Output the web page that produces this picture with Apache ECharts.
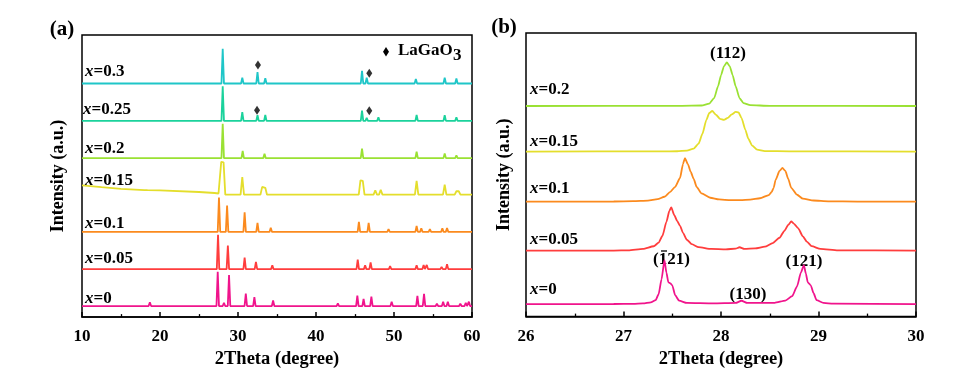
<!DOCTYPE html>
<html><head><meta charset="utf-8">
<script src="https://cdn.jsdelivr.net/npm/echarts@6/dist/echarts.min.js"></script>
<style>html,body{margin:0;padding:0;background:#fff}#c{width:957px;height:374px}</style>
</head><body><div id="c"></div>
<script>
// ---------- Panel (a): 2Theta 10-60 ----------
const samplesA = ['0.3', '0.25', '0.2', '0.15', '0.1', '0.05', '0'];
const colorsA = ['#1fc6c8', '#1bd29c', '#9ae133', '#e4de2c', '#fb8a1e', '#ff3d3d', '#f0148c'];
const offsetsA = [238.5, 200.3, 162.3, 125, 87, 49, 11.3];
// peaks: [2theta, height above baseline]
const peaksA_030 = [[18.2,1.5],[22.8,2],[28.04,35.5],[30.55,6],[32.5,11.5],[33.5,5.5],[38.4,1],[40.0,1.5],[42.2,1],[44.4,1],[45.9,13],[46.5,6],[48.1,2],[52.8,4.5],[56.5,6],[58.0,5]];
const peaksA_025 = [[18.2,1],[28.04,35.4],[30.55,9],[32.5,5.7],[33.5,6],[38.4,1],[45.9,10.4],[46.5,3],[48.0,3.7],[52.9,6],[56.5,5.7],[58.0,3.7]];
const peaksA_020 = [[28.04,35],[30.6,7.4],[33.4,4.4],[45.9,9.7],[48.0,1.7],[52.9,6.7],[56.5,4.7],[58.0,2.7]];
const headA_015 = [[10,9.4],[12.5,7.6],[15,6],[18.0,4.7],[18.2,6.5],[18.4,4.6],[20,4.4],[25,2.7],[27,1.7],[27.5,1.2]];
const peaksA_015 = [[27.85,33.5],[28.15,33],[30.55,18],[33.1,8],[33.5,7],[38.4,1.5],[42.2,1.5],[45.7,14.5],[46.0,14],[47.6,4.5],[48.3,5],[52.9,14],[56.5,10.3],[58.0,3.5],[58.3,3.5]];
const peaksA_010 = [[18.5,1.5],[27.56,35],[28.6,27],[30.85,20],[32.5,9.3],[34.2,4.3],[38.4,1],[39.6,1],[42.6,1.5],[45.5,10.3],[46.75,9.3],[49.3,2.7],[52.9,6],[53.5,3.7],[54.6,2.7],[56.2,3.7],[56.8,4],[58.3,2],[59.3,1.7]];
const peaksA_005 = [[18.6,1.5],[27.44,35],[28.7,24],[30.85,11.7],[32.3,7.3],[34.4,4],[38.6,1],[39.7,1],[42.8,1.5],[45.35,9.7],[46.3,4],[47.0,6.7],[49.5,3],[52.9,4],[53.8,4.3],[54.2,4.3],[56.1,2.3],[56.8,5],[58.3,2],[59.4,1.7]];
const peaksA_000 = [[15.4,1],[18.7,3.7],[27.4,35],[28.2,3.4],[28.85,31.7],[31.0,12.7],[32.1,9],[34.5,5.7],[38.5,1.5],[39.6,2],[42.8,2.7],[44.4,1],[45.3,10.7],[46.1,7.4],[47.1,9.7],[49.7,4.4],[53.0,10.4],[53.85,12.4],[55.5,2.4],[56.3,4.4],[56.9,4.4],[58.5,2.4],[59.2,3.4],[59.6,4.4]];
const peakListsA = [peaksA_030, peaksA_025, peaksA_020, peaksA_015, peaksA_010, peaksA_005, peaksA_000];
// LaGaO3 reflections marked with diamonds: [2theta, intensity]
const diamondsA = [[32.56,257.3],[46.83,249],[32.44,211.3],[46.83,210.7]];
const ticksA = [10, 20, 30, 40, 50, 60];

// ---------- Panel (b): 2Theta 26-30 ----------
const samplesB = ['0.2', '0.15', '0.1', '0.05', '0'];
const colorsB = ['#9ae133', '#e4de2c', '#fb8a1e', '#ff3d3d', '#f0148c'];
const offsetsB = [212.6, 166.6, 116, 66.6, 12.6];
const curveB_020 = [[26,0],[27.6,0.2],[27.8,0.5],[27.88,2.5],[27.93,8],[27.97,20],[28.0,31],[28.03,40],[28.06,44],[28.09,40],[28.12,31],[28.15,20],[28.19,8],[28.23,3],[28.3,0.8],[28.5,0.2],[30,0]];
const curveB_015 = [[26,0],[27.4,0.2],[27.55,0.3],[27.65,1],[27.72,3],[27.77,8],[27.81,18],[27.85,32],[27.88,39],[27.91,41],[27.95,37],[27.99,33],[28.03,32],[28.07,34],[28.11,37.5],[28.15,40],[28.18,39.5],[28.21,34],[28.25,22],[28.28,13],[28.32,6],[28.37,2],[28.45,0.5],[28.7,0.2],[30,0]];
const curveB_010 = [[26,0],[26.9,0.2],[27.1,0.5],[27.25,1],[27.35,2.5],[27.42,5],[27.48,10],[27.53,15],[27.58,24],[27.61,38],[27.63,44],[27.66,38],[27.69,30],[27.72,23],[27.75,15],[27.8,8.3],[27.89,4],[27.98,2.3],[28.1,1.5],[28.2,1.5],[28.3,2],[28.4,3.5],[28.49,6.7],[28.52,10],[28.54,14],[28.56,22],[28.6,31],[28.63,34],[28.66,31],[28.69,23],[28.72,14],[28.78,7],[28.84,3],[28.95,1.2],[29.1,0.4],[29.4,0.1],[30,0]];
const curveB_005 = [[26,0],[26.9,0.1],[27.05,0.3],[27.2,1.7],[27.31,4.4],[27.36,8],[27.4,15],[27.44,29],[27.47,40],[27.49,43.7],[27.52,36],[27.55,30],[27.58,25],[27.61,18],[27.65,11],[27.7,6.5],[27.77,3.5],[27.9,1.7],[28.05,1.3],[28.15,2],[28.19,3.4],[28.24,1.8],[28.35,2.3],[28.45,4],[28.53,7.5],[28.6,13],[28.65,20],[28.69,26],[28.72,29.4],[28.75,27],[28.79,22.7],[28.84,14.4],[28.88,9],[28.93,4.5],[29.02,1.7],[29.2,0.3],[30,0]];
const curveB_000 = [[26,0],[26.9,0.1],[27.1,0.3],[27.2,0.7],[27.28,1.8],[27.33,4],[27.36,10],[27.39,25],[27.42,44.4],[27.44,32],[27.46,22],[27.48,21],[27.5,19],[27.53,9],[27.57,3.5],[27.65,1.2],[27.92,0.7],[28.15,1.2],[28.21,3.4],[28.27,1.2],[28.55,1.3],[28.66,3.5],[28.73,8],[28.78,18],[28.82,32],[28.85,39.4],[28.87,31],[28.89,22],[28.92,19],[28.95,11],[28.98,4],[29.05,1.2],[29.15,0.5],[30,0]];
const curvesB = [curveB_020, curveB_015, curveB_010, curveB_005, curveB_000];
const ticksB = [26, 27, 28, 29, 30];

const F = '"Liberation Serif", "Times New Roman", serif';

function peakLine(peaks, head, w, xmin, xmax) {
  const pts = head ? head.slice() : [[xmin, 0]];
  peaks.forEach(([c, h], i) => {
    const prev = peaks[i - 1], next = peaks[i + 1];
    const overlapPrev = prev && (c - w) <= (prev[0] + w);
    const overlapNext = next && (next[0] - w) <= (c + w);
    if (!overlapPrev) pts.push([c - w, 0]);
    pts.push([c, h]);
    if (!overlapNext) pts.push([c + w, 0]);
  });
  pts.push([xmax, 0]);
  return pts;
}

const chart = echarts.init(document.getElementById('c'), null, {renderer: 'canvas'});

const series = [];
peakListsA.forEach((pk, i) => {
  const isBroad = samplesA[i] === '0.15';
  const pts = peakLine(pk, isBroad ? headA_015 : null, isBroad ? 0.22 : 0.16, 10, 60);
  series.push({
    type: 'line', xAxisIndex: 0, yAxisIndex: 0, showSymbol: false, silent: true,
    lineStyle: {color: colorsA[i], width: 1.8}, itemStyle: {color: colorsA[i]},
    data: pts.map(p => [p[0], offsetsA[i] + p[1]])
  });
});
series.push({
  type: 'scatter', xAxisIndex: 0, yAxisIndex: 0, symbol: 'diamond', symbolSize: [6, 9],
  itemStyle: {color: '#000'}, silent: true, data: diamondsA
});
curvesB.forEach((cv, i) => {
  series.push({
    type: 'line', xAxisIndex: 1, yAxisIndex: 1, showSymbol: false, silent: true,
    smooth: 0.2, smoothMonotone: 'x',
    lineStyle: {color: colorsB[i], width: 1.8}, itemStyle: {color: colorsB[i]},
    data: cv.map(p => [p[0], offsetsB[i] + p[1]])
  });
});

function xAxisCfg(idx, min, max, interval, margin, gap) {
  return {
    gridIndex: idx, type: 'value', min: min, max: max, interval: interval,
    axisLine: {show: true, lineStyle: {color: '#000', width: 1.5}},
    axisTick: {show: true, inside: true, length: 5, lineStyle: {color: '#000', width: 1.5}},
    minorTick: {show: true, splitNumber: 2, length: 3, lineStyle: {color: '#000', width: 1.3}},
    splitLine: {show: false}, minorSplitLine: {show: false},
    axisLabel: {color: '#000', fontWeight: 'bold', fontSize: 17, fontFamily: F, margin: margin},
    name: '2Theta (degree)', nameLocation: 'middle', nameGap: gap,
    nameTextStyle: {color: '#000', fontWeight: 'bold', fontSize: 18.5, fontFamily: F}
  };
}
function yAxisCfg(idx, max, gap) {
  return {
    gridIndex: idx, type: 'value', min: 0, max: max,
    axisLine: {show: false}, axisTick: {show: false}, axisLabel: {show: false}, splitLine: {show: false},
    name: 'Intensity (a.u.)', nameLocation: 'middle', nameGap: gap, nameRotate: 90,
    nameTextStyle: {color: '#000', fontWeight: 'bold', fontSize: 18, fontFamily: F}
  };
}

function sampleLabel(val, x, y) {
  return {
    type: 'text', x: x, y: y, silent: true,
    style: {
      text: '{i|x}{n|=' + val + '}', verticalAlign: 'middle', align: 'left',
      rich: {
        i: {fontStyle: 'italic', fontWeight: 'bold', fontSize: 17, fontFamily: F, fill: '#000'},
        n: {fontWeight: 'bold', fontSize: 17, fontFamily: F, fill: '#000'}
      }
    }
  };
}
function plainText(txt, x, y, size, align) {
  return {
    type: 'text', x: x, y: y, silent: true,
    style: {text: txt, fontWeight: 'bold', fontSize: size, fontFamily: F, fill: '#000', align: align || 'center', verticalAlign: 'middle'}
  };
}

const labelPosA = [[85, 72], [83, 110], [85, 148.5], [85, 180.5], [85, 223.5], [85, 258.5], [85, 298.5]];
const labelPosB = [[530, 89.5], [530, 142], [530, 189], [530, 239.5], [530, 289.5]];
const graphics = [];
samplesA.forEach((s, i) => graphics.push(sampleLabel(s, labelPosA[i][0], labelPosA[i][1])));
samplesB.forEach((s, i) => graphics.push(sampleLabel(s, labelPosB[i][0], labelPosB[i][1])));
graphics.push(plainText('(a)', 62, 30, 21));
graphics.push(plainText('(b)', 504, 28, 21));
// LaGaO3 legend
graphics.push({type: 'polygon', silent: true, shape: {points: [[386, 47], [389, 51.7], [386, 56.4], [383, 51.7]]}, style: {fill: '#000'}});
graphics.push(plainText('LaGaO', 398, 51, 17, 'left'));
graphics.push(plainText('3', 453, 55.5, 17, 'left'));
// Miller index labels in (b)
graphics.push(plainText('(112)', 728, 54, 17));
graphics.push(plainText('(121)', 671.5, 259.5, 17));
graphics.push({type: 'line', silent: true, shape: {x1: 661, y1: 251, x2: 667, y2: 251}, style: {stroke: '#000', lineWidth: 1.3}});
graphics.push(plainText('(130)', 748, 294.5, 17));
graphics.push(plainText('(121)', 804, 262, 17));

chart.setOption({
  animation: false,
  backgroundColor: '#fff',
  grid: [
    {left: 82, top: 35, width: 390, height: 288, show: true, borderColor: '#000', borderWidth: 1.5, backgroundColor: 'transparent'},
    {left: 526, top: 33, width: 390, height: 286.3, show: true, borderColor: '#000', borderWidth: 1.5, backgroundColor: 'transparent'}
  ],
  xAxis: [xAxisCfg(0, ticksA[0], ticksA[ticksA.length - 1], 10, 11, 24), xAxisCfg(1, ticksB[0], ticksB[ticksB.length - 1], 1, 11.5, 25.5)],
  yAxis: [yAxisCfg(0, 288, 15), yAxisCfg(1, 286.3, 13)],
  series: series,
  graphic: graphics
});
</script>
</body></html>
